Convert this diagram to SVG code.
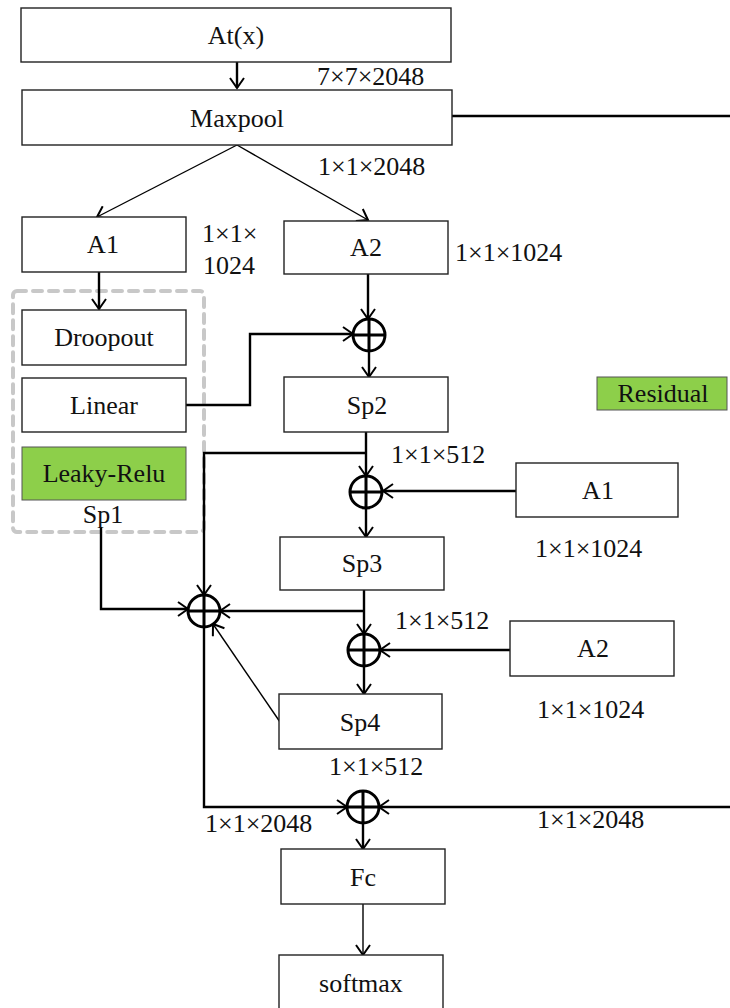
<svg xmlns="http://www.w3.org/2000/svg" width="730" height="1008" viewBox="0 0 730 1008">
<style>
.box{fill:#fff;stroke:#222;stroke-width:1.4}
.green{fill:#8dcf4a;stroke:#555;stroke-width:1}
.lbl{font-size:26px;fill:#111;text-anchor:middle}
.dim{font-size:26px;fill:#111}
.w{fill:none;stroke:#000;stroke-width:2.4}
.t{fill:none;stroke:#000;stroke-width:1.4}
.sum{fill:#fff;stroke:#000;stroke-width:3}
.plus{stroke:#000;stroke-width:3}
</style>
<defs>
<marker id="ah" viewBox="-12 -8 14 16" markerWidth="14" markerHeight="16" refX="0" refY="0" orient="auto" markerUnits="userSpaceOnUse">
<path d="M-10,-7 L0,0 L-10,7" fill="none" stroke="#000" stroke-width="2"/>
</marker>
</defs>
<rect x="13" y="291" width="191" height="241" rx="4" fill="none" stroke="#c8c8c8" stroke-width="4" stroke-dasharray="9 7" stroke-linecap="round"/>
<g id="connectors">
<path class="w" d="M237,62 V88" marker-end="url(#ah)"/>
<path class="w" d="M452,116 H730"/>
<path class="t" d="M237,145 L97,217" marker-end="url(#ah)"/>
<path class="t" d="M237,145 L368,220" marker-end="url(#ah)"/>
<path class="w" d="M99,272 V309" marker-end="url(#ah)"/>
<path class="w" d="M368,274 V319" marker-end="url(#ah)"/>
<path class="w" d="M186,405 H250 V334 H353" marker-end="url(#ah)"/>
<path class="w" d="M369,351 V377" marker-end="url(#ah)"/>
<path class="w" d="M366,432 V476" marker-end="url(#ah)"/>
<path class="w" d="M366,453 H204 V595" marker-end="url(#ah)"/>
<path class="w" d="M204,627 V807 H347" marker-end="url(#ah)"/>
<path class="w" d="M516,491 H383" marker-end="url(#ah)"/>
<path class="w" d="M366,508 V537" marker-end="url(#ah)"/>
<path class="w" d="M364,590 V634" marker-end="url(#ah)"/>
<path class="w" d="M364,611 H220" marker-end="url(#ah)"/>
<path class="w" d="M510,650 H380" marker-end="url(#ah)"/>
<path class="w" d="M364,666 V694" marker-end="url(#ah)"/>
<path class="w" d="M101,527 V609 H188" marker-end="url(#ah)"/>
<path class="t" d="M280,722 L213,624" marker-end="url(#ah)"/>
<path class="w" d="M730,807 H379" marker-end="url(#ah)"/>
<path class="w" d="M363,823 V849" marker-end="url(#ah)"/>
<path class="t" d="M363,904 V955" marker-end="url(#ah)"/>
</g>
<g id="sum1"><circle class="sum" cx="369" cy="335" r="16"/><path class="plus" d="M353,335 H385 M369,319 V351"/></g>
<g id="sum2"><circle class="sum" cx="366" cy="492" r="16"/><path class="plus" d="M350,492 H382 M366,476 V508"/></g>
<g id="sum3"><circle class="sum" cx="364" cy="650" r="16"/><path class="plus" d="M348,650 H380 M364,634 V666"/></g>
<g id="sumL"><circle class="sum" cx="204" cy="611" r="16"/><path class="plus" d="M188,611 H220 M204,595 V627"/></g>
<g id="sum4"><circle class="sum" cx="363" cy="807" r="16"/><path class="plus" d="M347,807 H379 M363,791 V823"/></g>
<g font-family="Liberation Serif, DejaVu Serif, serif">
<g id="atx"><rect class="box" x="21" y="8" width="430" height="54"/><text class="lbl" x="236" y="44">At(x)</text></g>
<g id="maxpool"><rect class="box" x="22" y="90" width="430" height="55"/><text class="lbl" x="237" y="127">Maxpool</text></g>
<g id="a1"><rect class="box" x="22" y="217" width="164" height="55"/><text class="lbl" x="103" y="253">A1</text></g>
<g id="a2"><rect class="box" x="284" y="221" width="164" height="53"/><text class="lbl" x="366" y="256">A2</text></g>
<g id="droopout"><rect class="box" x="22" y="310" width="164" height="55"/><text class="lbl" x="104" y="346">Droopout</text></g>
<g id="linear"><rect class="box" x="22" y="378" width="164" height="54"/><text class="lbl" x="104" y="414">Linear</text></g>
<g id="leaky"><rect class="green" x="22" y="447" width="164" height="53"/><text class="lbl" x="104" y="482">Leaky-Relu</text></g>
<g id="sp1"><text class="lbl" x="103" y="523">Sp1</text></g>
<g id="sp2"><rect class="box" x="284" y="377" width="164" height="55"/><text class="lbl" x="367" y="414">Sp2</text></g>
<g id="residual"><rect class="green" x="597" y="377" width="130" height="33" stroke="none"/><text class="lbl" x="663" y="402">Residual</text></g>
<g id="a1r"><rect class="box" x="516" y="463" width="162" height="54"/><text class="lbl" x="598" y="499">A1</text></g>
<g id="sp3"><rect class="box" x="280" y="537" width="164" height="53"/><text class="lbl" x="362" y="572">Sp3</text></g>
<g id="a2r"><rect class="box" x="510" y="621" width="164" height="55"/><text class="lbl" x="593" y="657">A2</text></g>
<g id="sp4"><rect class="box" x="279" y="694" width="163" height="55"/><text class="lbl" x="360" y="731">Sp4</text></g>
<g id="fc"><rect class="box" x="281" y="849" width="164" height="55"/><text class="lbl" x="363" y="886">Fc</text></g>
<g id="softmax"><rect class="box" x="279" y="955" width="164" height="60"/><text class="lbl" x="361" y="992">softmax</text></g>
<g id="dims">
<text class="dim" x="317" y="85">7×7×2048</text>
<text class="dim" x="318" y="175">1×1×2048</text>
<text class="dim" x="202" y="242">1×1×</text>
<text class="dim" x="203" y="274">1024</text>
<text class="dim" x="455" y="261">1×1×1024</text>
<text class="dim" x="391" y="463">1×1×512</text>
<text class="dim" x="535" y="557">1×1×1024</text>
<text class="dim" x="395" y="629">1×1×512</text>
<text class="dim" x="537" y="718">1×1×1024</text>
<text class="dim" x="329" y="775">1×1×512</text>
<text class="dim" x="205" y="832">1×1×2048</text>
<text class="dim" x="537" y="828">1×1×2048</text>
</g>
</g>
</svg>
